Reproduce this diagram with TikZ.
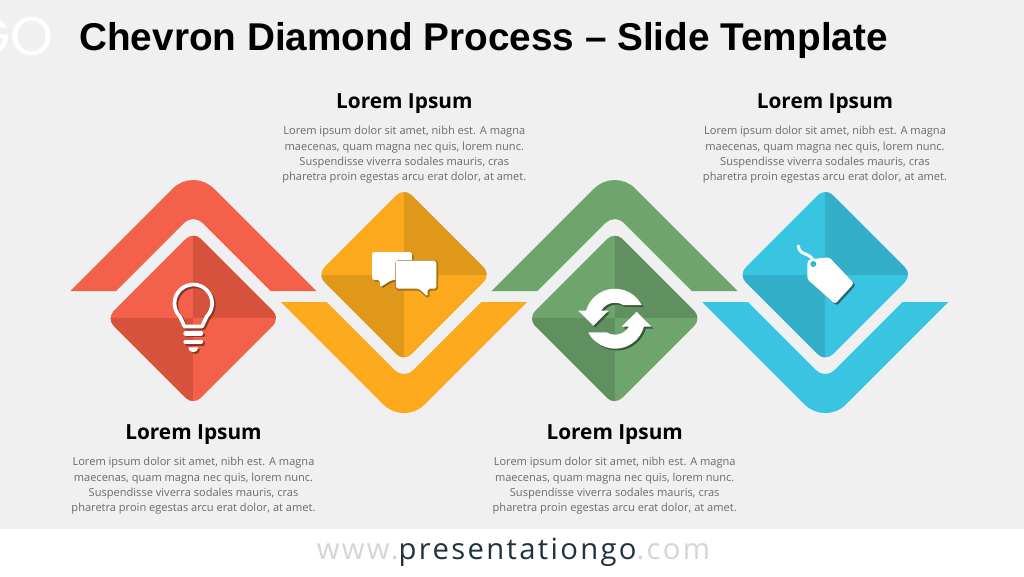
\documentclass[tikz,border=0pt]{standalone}
\usepackage{fontspec}
\setmainfont{Open Sans}
\newfontfamily\titlefont{Liberation Sans}
\newfontfamily\logofont{Poppins}
\newfontfamily\webfont[LetterSpace=8]{Open Sans}
\definecolor{redmain}{HTML}{F4614A}
\definecolor{reddark}{HTML}{D6523D}
\definecolor{yellowmain}{HTML}{FCA91E}
\definecolor{yellowdark}{HTML}{E0981B}
\definecolor{greenmain}{HTML}{6EA56D}
\definecolor{greendark}{HTML}{60905F}
\definecolor{bluemain}{HTML}{39C5E2}
\definecolor{bluedark}{HTML}{34AFC9}
\definecolor{slideback}{HTML}{F0F0F0}
\definecolor{bodygrey}{HTML}{6A6A6A}
\definecolor{webdark}{HTML}{1F3240}
\definecolor{weblight}{HTML}{D3D5D7}
\tikzset{heading/.style={font=\bfseries\fontsize{11.85}{14}\selectfont, text=black, inner sep=0}}
\tikzset{bodytext/.style={font=\fontsize{6.3}{8.7}\selectfont, text=bodygrey, align=center, inner sep=0}}
\tikzset{chevronup/.style={rounded corners=0.58cm}}
\tikzset{chevronin/.style={rounded corners=0.26cm}}

\begin{document}
\begin{tikzpicture}[x=0.02cm, y=-0.02cm]
    \useasboundingbox (0, 0) rectangle (1024, 576);
    \fill[white] (0, 0) rectangle (1024, 576);
    \fill[slideback] (0, 0) rectangle (1024, 529);
    \node[anchor=west, inner sep=0, text=white, font=\logofont\fontsize{31}{31}\selectfont] (logo) at (-32, 36) {GO};
    \node[anchor=west, inner sep=0, font=\titlefont\bfseries\fontsize{22.04}{26}\selectfont] (title) at (79, 40.5) {Chevron Diamond Process – Slide Template};
    % chevrons and diamonds
    \foreach \cx/\cy/\dir/\main/\dark in {193.3/318.4/1/redmain/reddark, 404/274.7/-1/yellowmain/yellowdark, 614.7/318.4/1/greenmain/greendark, 825.3/274.7/-1/bluemain/bluedark} {
        \begin{scope}[shift={(\cx, \cy)}]
            \fill[\main, yscale=\dir] (-123, -27.4) [chevronup] -- (0, -150.4) [sharp corners] -- (123, -27.4) -- (77.3, -27.4) [chevronin] -- (0, -104.7) [sharp corners] -- (-77.3, -27.4) -- cycle;
            \begin{scope}
                \clip[rounded corners=0.21cm] (0, -87) -- (87, 0) -- (0, 87) -- (-87, 0) -- cycle;
                \fill[\main] (-87, -87) rectangle (87, 87);
                \fill[\dark] (0, -87) rectangle (87, 0);
                \fill[\dark] (-87, 0) rectangle (0, 87);
            \end{scope}
        \end{scope}
    }
    % bulb
    \foreach \ink/\off in {reddark!65!black/1.8, white/0} {
        \begin{scope}[shift={(\off, \off)}]
            \draw[\ink, line width=2.1pt, line join=round] (206.6, 316.6) arc[start angle=45, end angle=-225, radius=18.8] -- (184.5, 326.4) -- (202.1, 326.4) -- cycle;
            \draw[\ink, line width=2.5pt, line cap=round] (185.5, 333.3) -- (201, 333.3);
            \draw[\ink, line width=2.5pt, line cap=round] (185.5, 341.7) -- (201, 341.7);
            \fill[\ink] (188.3, 347.3) -- (198.3, 347.3) arc[start angle=0, end angle=180, radius=5] -- cycle;
        \end{scope}
    }
    % bubbles
    \fill[yellowdark!65!black, rounded corners=1pt, shift={(1.5, 1.5)}] (372, 252) -- (412, 252) -- (412, 280) -- (391.7, 280) -- (380, 287.3) -- (380, 280) -- (372, 280) -- cycle;
    \fill[white, rounded corners=1pt] (372, 252) -- (412, 252) -- (412, 280) -- (391.7, 280) -- (380, 287.3) -- (380, 280) -- (372, 280) -- cycle;
    \filldraw[yellowdark!75!black, line width=1.4pt, rounded corners=1pt, shift={(0.7, 0.7)}] (396, 260.7) -- (436.3, 260.7) -- (436.3, 288.7) -- (427.7, 288.7) -- (427.7, 296.7) -- (419, 288.7) -- (396, 288.7) -- cycle;
    \fill[white, rounded corners=1pt] (396, 260.7) -- (436.3, 260.7) -- (436.3, 288.7) -- (427.7, 288.7) -- (427.7, 296.7) -- (419, 288.7) -- (396, 288.7) -- cycle;
    % refresh arrows
    \foreach \ink/\off in {greendark!60!black/1.8, white/0} {
        \foreach \rot in {0, 180} {
            \begin{scope}[shift={(615 + \off, 318.7 + \off)}, rotate=\rot]
                \fill[\ink] (-36.7, -8) -- (-21.7, 7) -- (-6.7, -8) -- (-13.9, -8) arc[start angle=-150, end angle=-58.8, radius=16] -- (26.7, -13.7) arc[start angle=-27.2, end angle=-164.5, radius=30] -- cycle;
            \end{scope}
        }
    }
    % tag
    \foreach \ink/\off in {bluedark!60!black/1.8, white/0} {
        \fill[\ink, shift={(\off, \off)}, rounded corners=1.5pt] (810, 259.3) -- (829.3, 257.3) -- (854, 283.3) -- (835, 304) -- (807.3, 279.3) -- (807.3, 261.7) -- cycle;
    }
    \fill[bluedark] (813.3, 264) circle (3);
    \fill[bluemain] (813.3, 265) circle (1.5);
    \draw[white, line width=1.7pt, line cap=round] (813.3, 260) .. controls (810, 255) and (806, 254.5) .. (802, 252.5) .. controls (799.5, 251) and (798.5, 248.5) .. (798.3, 246);
    % texts
    \foreach \name/\tx/\hy/\by in {one/193.5/434.5/486, two/404.3/103.5/155, three/614.7/434.5/486, four/825/103.5/155} {
        \node[heading] (head\name) at (\tx, \hy) {Lorem Ipsum};
        \node[bodytext] (body\name) at (\tx, \by) {Lorem ipsum dolor sit amet, nibh est. A magna\\maecenas, quam magna nec quis, lorem nunc.\\Suspendisse viverra sodales mauris, cras\\pharetra proin egestas arcu erat dolor, at amet.};
    }
    \node[inner sep=0, font=\webfont\fontsize{16.64}{20}\selectfont] (web) at (513.5, 552) {\textcolor{weblight}{www.}\textcolor{webdark}{presentationgo}\textcolor{weblight}{.com}};
\end{tikzpicture}
\end{document}
